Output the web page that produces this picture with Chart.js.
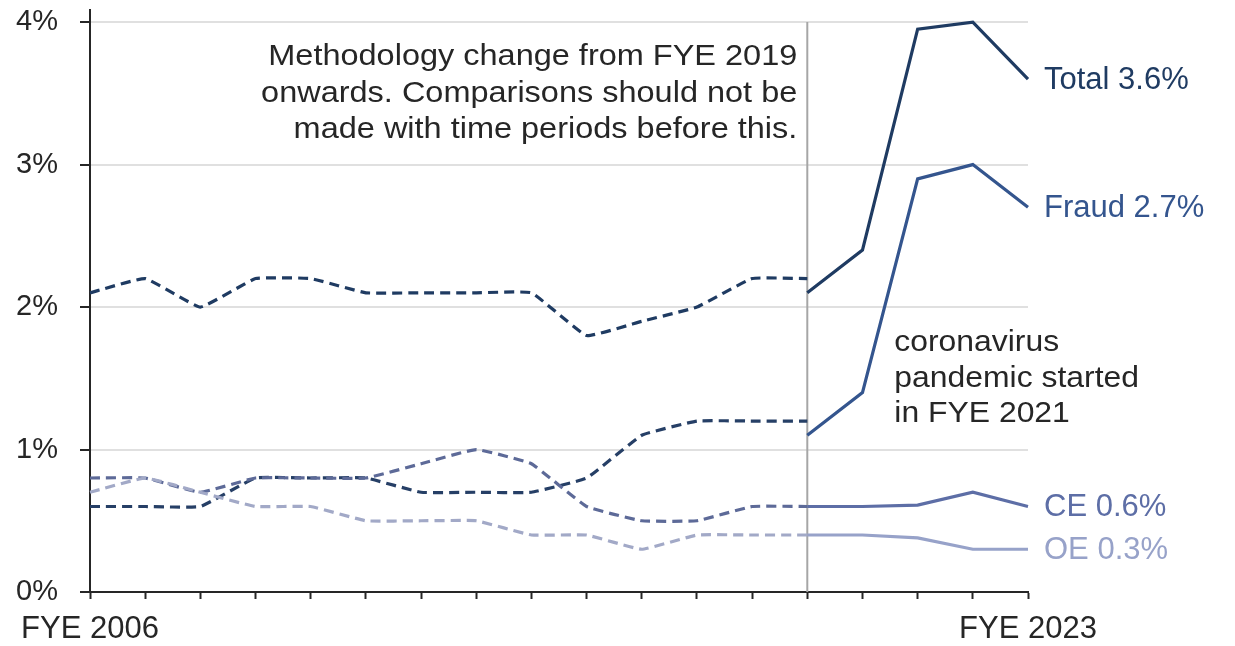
<!DOCTYPE html>
<html>
<head>
<meta charset="utf-8">
<title>Fraud and error rates, FYE 2006 to FYE 2023</title>
<script src="https://cdn.jsdelivr.net/npm/chart.js@4.4.1/dist/chart.umd.min.js"></script>
<style>
  html, body { margin: 0; padding: 0; background: #ffffff; }
  #wrap { width: 1235px; height: 646px; position: relative; }
</style>
</head>
<body>
<div id="wrap"><canvas id="chart"></canvas></div>
<script>
// Financial years shown on the x axis
const years = ['FYE 2006','FYE 2007','FYE 2008','FYE 2009','FYE 2010','FYE 2011','FYE 2012',
  'FYE 2013','FYE 2014','FYE 2015','FYE 2016','FYE 2017','FYE 2018','FYE 2019',
  'FYE 2020','FYE 2021','FYE 2022','FYE 2023'];

// Index of FYE 2019, where the methodology changes
const breakIndex = 13;

// Rates (%) under the old methodology, FYE 2006 to FYE 2019
const totalOld = [2.1, 2.2, 2.0, 2.2, 2.2, 2.1, 2.1, 2.1, 2.1, 1.8, 1.9, 2.0, 2.2, 2.2];
const fraudOld = [0.6, 0.6, 0.6, 0.8, 0.8, 0.8, 0.7, 0.7, 0.7, 0.8, 1.1, 1.2, 1.2, 1.2];
const ceOld    = [0.8, 0.8, 0.7, 0.8, 0.8, 0.8, 0.9, 1.0, 0.9, 0.6, 0.5, 0.5, 0.6, 0.6];
const oeOld    = [0.7, 0.8, 0.7, 0.6, 0.6, 0.5, 0.5, 0.5, 0.4, 0.4, 0.3, 0.4, 0.4, 0.4];

// Rates (%) under the new methodology, FYE 2019 to FYE 2023
const totalNew = [2.1, 2.4, 3.95, 4.0, 3.6];
const fraudNew = [1.1, 1.4, 2.9, 3.0, 2.7];
const ceNew    = [0.6, 0.6, 0.61, 0.7, 0.6];
const oeNew    = [0.4, 0.4, 0.38, 0.3, 0.3];

// Series names used for the end-of-line labels
const seriesNames = ['Total', 'Fraud', 'CE', 'OE'];

// Y axis tick values (%)
const yTicks = [0, 1, 2, 3, 4];

const colors = {
  Total: '#1f3b62',
  Fraud: '#34558e',
  CE: '#5d6ea6',
  OE: '#97a2c9'
};
const dashColors = {
  Total: '#1f3b62',
  Fraud: '#263f66',
  CE: '#5d6a98',
  OE: '#a2a9c7'
};

const FONT = "'Liberation Sans', Arial, Helvetica, sans-serif";
const TEXT = '#262626';

// Spread a partial series across the full list of years
function oldSeries(vals) {
  return years.map((_, i) => (i < vals.length ? vals[i] : null));
}
function newSeries(vals) {
  return years.map((_, i) => (i >= breakIndex ? vals[i - breakIndex] : null));
}

const oldData = { Total: totalOld, Fraud: fraudOld, CE: ceOld, OE: oeOld };
const newData = { Total: totalNew, Fraud: fraudNew, CE: ceNew, OE: oeNew };

const datasets = [];
// draw the lighter series first so the darker ones sit on top
['OE', 'CE', 'Fraud', 'Total'].forEach(name => {
  datasets.push({
    label: name + ' (old method)',
    data: oldSeries(oldData[name]),
    borderColor: dashColors[name],
    borderWidth: 3.2,
    borderDash: [10, 6],
    tension: 0.1,
    pointRadius: 0,
    spanGaps: false,
    fill: false
  });
  datasets.push({
    label: name,
    data: newSeries(newData[name]),
    borderColor: colors[name],
    borderWidth: 3.2,
    tension: 0,
    pointRadius: 0,
    spanGaps: false,
    fill: false
  });
});

// Text with a slight horizontal stretch
function wideText(ctx, text, x, y, align, sx) {
  ctx.save();
  ctx.translate(x, y);
  ctx.scale(sx, 1);
  ctx.textAlign = align;
  ctx.fillText(text, 0, 0);
  ctx.restore();
}

const annotations = {
  id: 'annotations',
  beforeDatasetsDraw(chart) {
    const { ctx, scales: { x, y } } = chart;
    const bx = x.getPixelForValue(breakIndex);
    ctx.save();
    ctx.strokeStyle = '#a6a6a6';
    ctx.lineWidth = 2;
    ctx.beginPath();
    ctx.moveTo(bx, y.getPixelForValue(4));
    ctx.lineTo(bx, y.getPixelForValue(0));
    ctx.stroke();
    ctx.restore();
  },
  afterDatasetsDraw(chart) {
    const { ctx, scales: { x, y } } = chart;
    const bx = x.getPixelForValue(breakIndex);
    const top = y.getPixelForValue(4);
    ctx.save();
    ctx.fillStyle = TEXT;
    ctx.font = '29px ' + FONT;
    ctx.textBaseline = 'alphabetic';
    const note1 = ['Methodology change from FYE 2019',
                   'onwards. Comparisons should not be',
                   'made with time periods before this.'];
    note1.forEach((line, i) => wideText(ctx, line, bx - 10, top + 43 + i * 36.5, 'right', 1.12));

    const note2 = ['coronavirus', 'pandemic started', 'in FYE 2021'];
    const y2 = y.getPixelForValue(2);
    note2.forEach((line, i) => wideText(ctx, line, bx + 87, y2 + 44 + i * 35.5, 'left', 1.1));

    // End-of-line labels, text taken from each series' last value
    ctx.font = '31px ' + FONT;
    ctx.textBaseline = 'middle';
    ctx.textAlign = 'left';
    const lastX = x.getPixelForValue(years.length - 1);
    seriesNames.forEach(name => {
      const vals = newData[name];
      const v = vals[vals.length - 1];
      ctx.fillStyle = colors[name];
      ctx.fillText(name + ' ' + v + '%', lastX + 16, y.getPixelForValue(v) + 1);
    });
    ctx.restore();
  }
};

new Chart(document.getElementById('chart'), {
  type: 'line',
  data: { labels: years, datasets },
  plugins: [annotations],
  options: {
    responsive: true,
    maintainAspectRatio: false,
    animation: false,
    events: [],
    layout: { padding: { top: 10, right: 207, bottom: 0, left: 0 } },
    plugins: { legend: { display: false }, tooltip: { enabled: false } },
    scales: {
      x: {
        type: 'category',
        offset: false,
        grid: { drawOnChartArea: false, drawTicks: true, tickLength: 7, tickColor: TEXT, tickWidth: 2 },
        border: { display: true, color: TEXT, width: 2 },
        ticks: {
          autoSkip: false,
          maxRotation: 0,
          padding: 12,
          color: TEXT,
          font: { family: FONT, size: 31 },
          callback: (v, i) => (i === 0 || i === years.length - 1) ? years[i] : ''
        },
        afterFit(scale) {
          scale.height = 54;
          scale.paddingLeft = 0;
          scale.paddingRight = 0;
        }
      },
      y: {
        min: 0,
        max: 4.085,
        afterBuildTicks(scale) { scale.ticks = yTicks.map(v => ({ value: v })); },
        grid: { color: '#e0e0e0', lineWidth: 2, drawTicks: true, tickLength: 10, tickColor: TEXT, tickWidth: 2 },
        border: { display: true, color: TEXT, width: 2 },
        ticks: {
          padding: 22,
          color: TEXT,
          font: { family: FONT, size: 29 },
          callback: v => v + '%'
        },
        afterFit(scale) {
          scale.width = 90;
          scale.paddingTop = 0;
          scale.paddingBottom = 0;
        }
      }
    }
  }
});
</script>
</body>
</html>
